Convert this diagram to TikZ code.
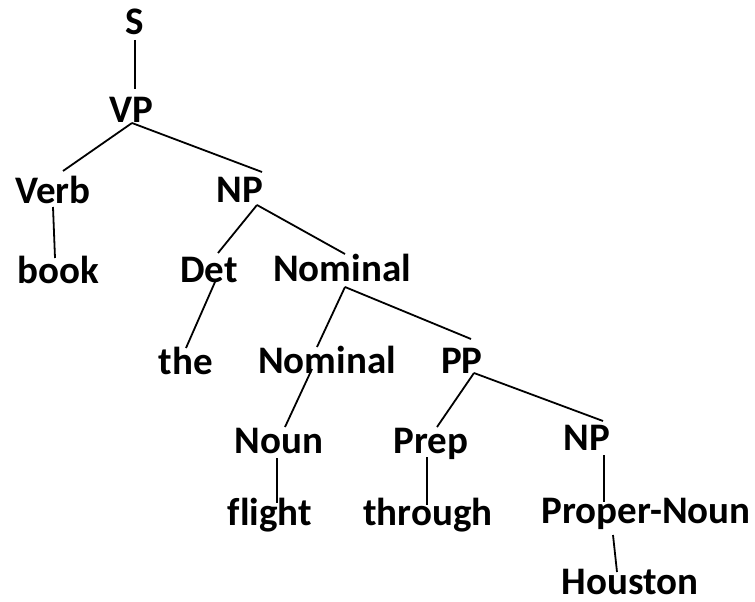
\documentclass[tikz,border=0pt]{standalone}
\usepackage{fontspec}
\setmainfont[Ligatures=NoCommon]{Carlito}
\usetikzlibrary{calc}
\begin{document}
\begin{tikzpicture}[x=1pt,y=-1pt,
  lbl/.style={anchor=base,inner sep=0pt,font=\fontsize{39}{41}\selectfont\bfseries},
  edge/.style={line width=1.8pt}]
\useasboundingbox (0,0) rectangle (755,602);
\node[lbl] (s) at (135,35) {S};
\node[lbl] (vp) at (131,122) {VP};
\node[lbl] (verb) at (53,203) {Verb};
\node[lbl] (np) at (240,202) {NP};
\node[lbl] (book) at (58,283) {book};
\node[lbl] (det) at (209,282) {Det};
\node[lbl] (nom) at (342,281) {Nominal};
\node[lbl] (the) at (186,374) {the};
\node[lbl] (nom2) at (327,373) {Nominal};
\node[lbl] (pp) at (462,373) {PP};
\node[lbl] (noun) at (279,453) {Noun};
\node[lbl] (prep) at (431,453) {Prep};
\node[lbl] (np2) at (587,450) {NP};
\node[lbl] (flight) at (270,525) {flight};
\node[lbl] (through) at (428,525) {through};
\node[lbl] (pn) at (646,523) {Proper-Noun};
\node[lbl] (houston) at (630,594) {Houston};
\draw[edge] ($(s.base)+(0,5)$) -- ($(vp.base)+(4,-33)$);
\draw[edge] ($(vp.base)+(1,1)$) -- ($(verb.base)+(10,-32)$);
\draw[edge] ($(vp.base)+(1,1)$) -- ($(np.base)+(22,-30)$);
\draw[edge] ($(verb.base)+(0,4)$) -- ($(book.base)+(-3,-25)$);
\draw[edge] ($(np.base)+(17,3)$) -- ($(det.base)+(9,-29)$);
\draw[edge] ($(np.base)+(17,3)$) -- ($(nom.base)+(3,-27)$);
\draw[edge] ($(det.base)+(6,0)$) -- ($(the.base)+(0,-26)$);
\draw[edge] ($(nom.base)+(3,6)$) -- ($(nom2.base)+(-10,-26)$);
\draw[edge] ($(nom.base)+(3,6)$) -- ($(pp.base)+(9,-34)$);
\draw[edge] ($(nom2.base)+(-15,-4)$) -- ($(noun.base)+(6,-26)$);
\draw[edge] ($(pp.base)+(12,0)$) -- ($(prep.base)+(6,-26)$);
\draw[edge] ($(pp.base)+(12,0)$) -- ($(np2.base)+(16,-29)$);
\draw[edge] ($(noun.base)+(-2,5)$) -- ($(flight.base)+(7,-22)$);
\draw[edge] ($(prep.base)+(-4,4)$) -- ($(through.base)+(-1,-20)$);
\draw[edge] ($(np2.base)+(17,5)$) -- ($(pn.base)+(-42,-21)$);
\draw[edge] ($(pn.base)+(-33,12)$) -- ($(houston.base)+(-13,-22)$);
\end{tikzpicture}
\end{document}
